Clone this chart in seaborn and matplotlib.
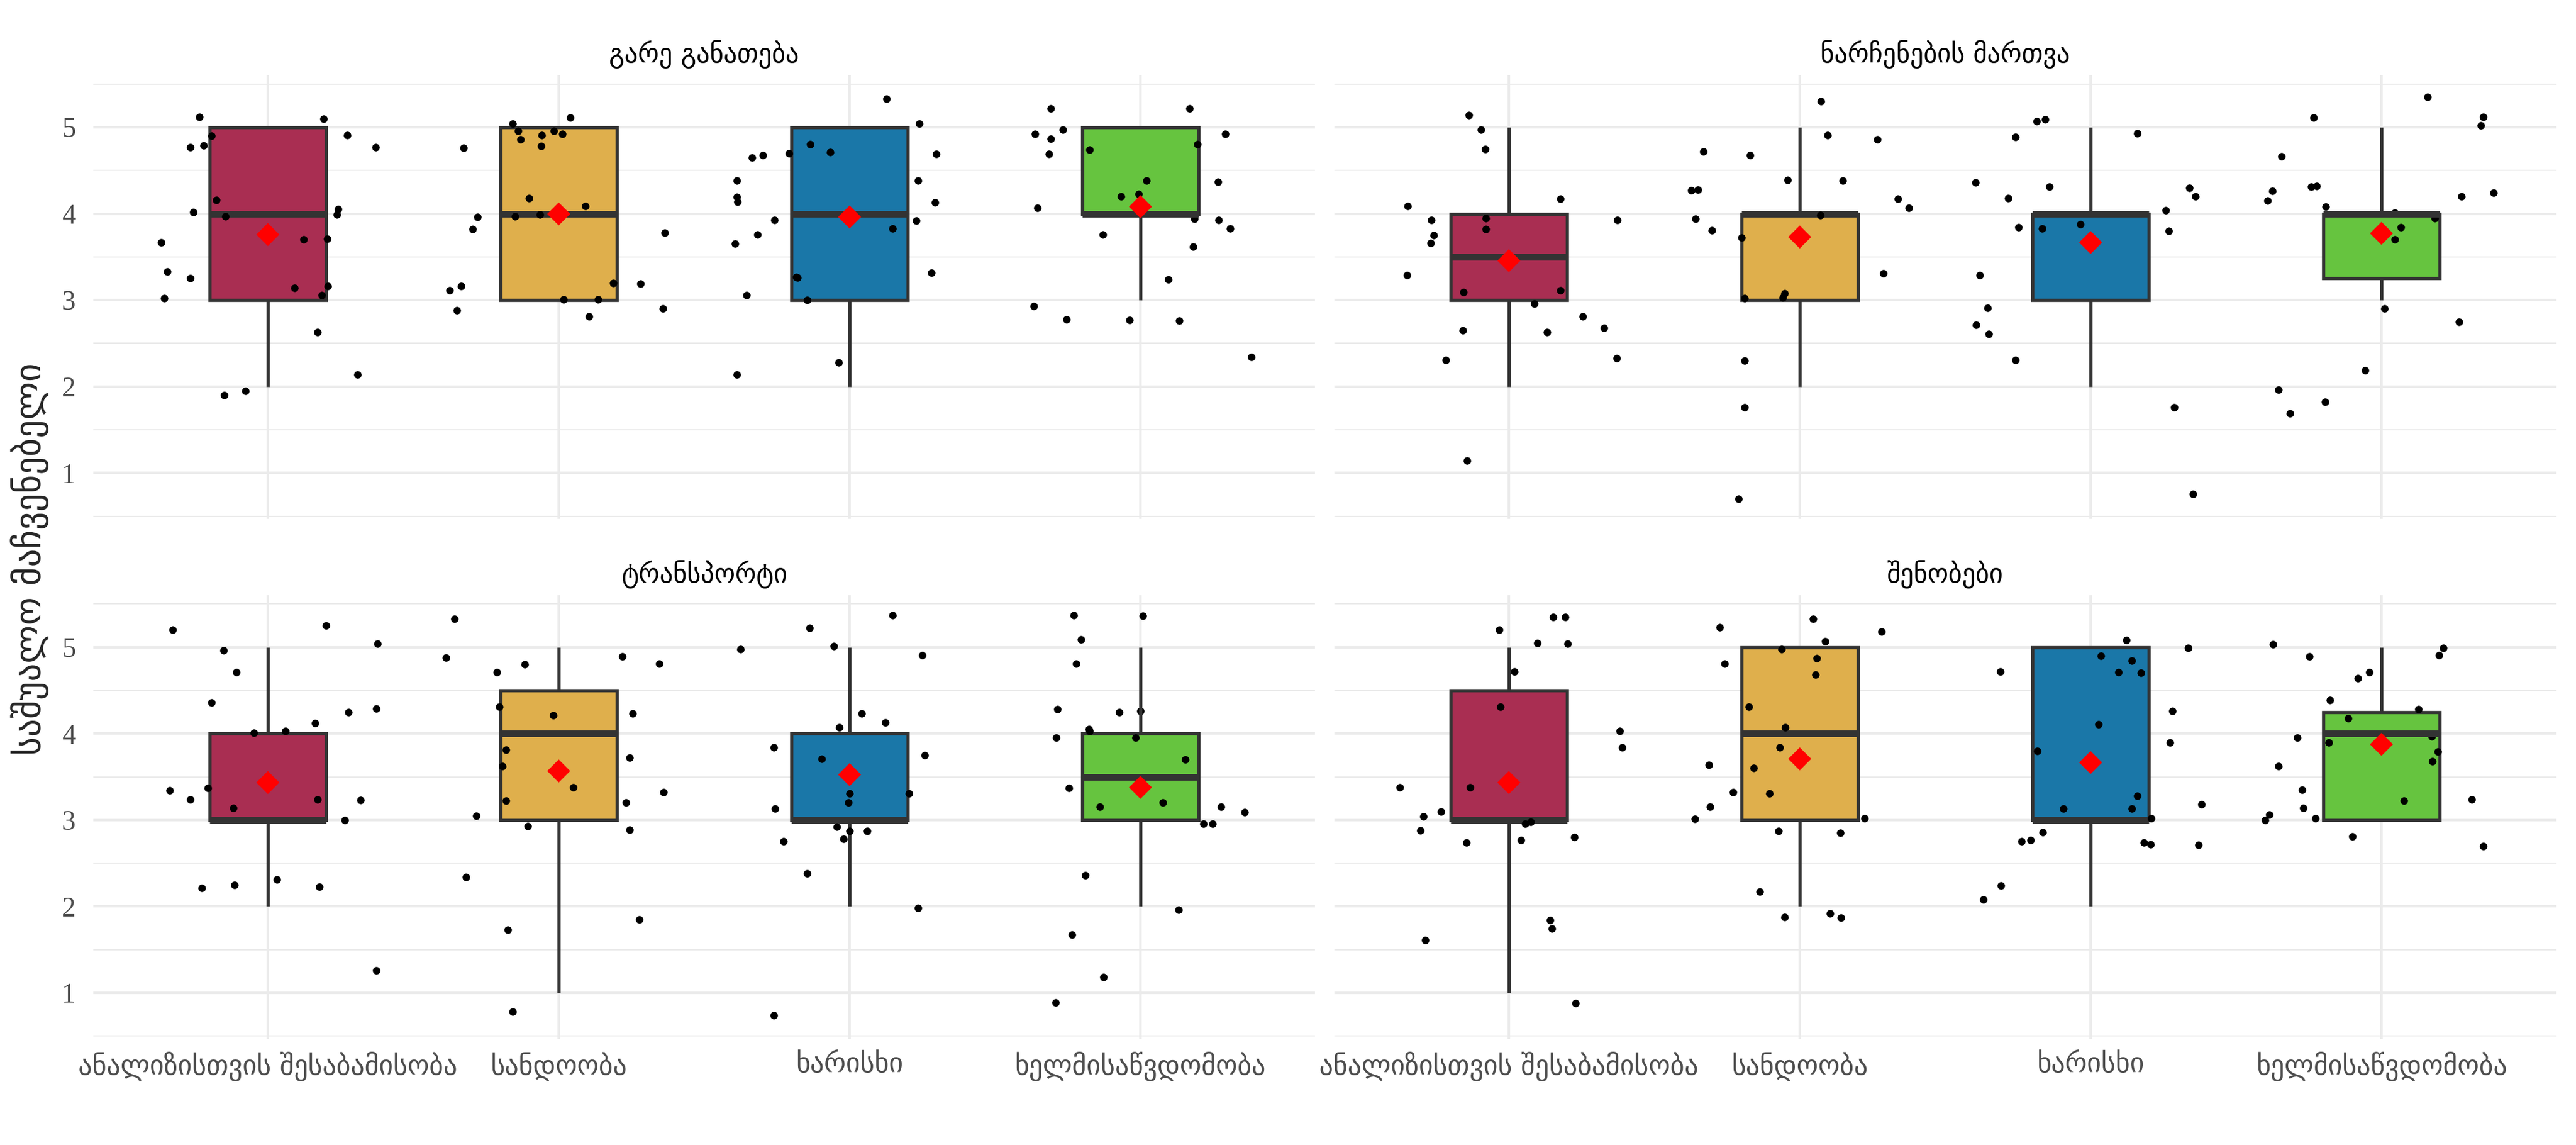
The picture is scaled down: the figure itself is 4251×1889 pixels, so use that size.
import numpy as np
import pandas as pd
import matplotlib
matplotlib.use("Agg")
import matplotlib.pyplot as plt
import seaborn as sns
from matplotlib.ticker import MultipleLocator

sns.set_style("white")
plt.rcParams["font.family"] = ["DejaVu Sans"]

panels = ["გარე განათება", "ნარჩენების მართვა", "ტრანსპორტი", "შენობები"]
criteria = ["ანალიზისთვის შესაბამისობა", "სანდოობა", "ხარისხი", "ხელმისაწვდომობა"]
colors = ["#A92E52", "#DFAF4C", "#1A77A8", "#66C43F"]
y_ticks = [1, 2, 3, 4, 5]
y_label = "საშუალო მაჩვენებელი"

# jittered scores as drawn (y) and their horizontal jitter (dx), one list per criterion
light_y = [
    [5.12, 5.10, 4.90, 4.91, 4.77, 4.79, 4.77, 4.16, 4.05, 4.02, 3.97, 3.99, 3.67, 3.70, 3.71,
     3.33, 3.25, 3.02, 3.14, 3.16, 3.06, 2.63, 2.14, 1.90, 1.95],
    [5.04, 4.96, 5.11, 4.86, 4.91, 4.96, 4.92, 4.78, 4.76, 4.18, 3.97, 3.99, 4.09, 3.96, 3.82,
     3.11, 3.16, 2.88, 3.20, 3.19, 3.01, 3.01, 2.81, 3.78, 2.90],
    [5.33, 5.04, 4.69, 4.65, 4.68, 4.70, 4.80, 4.71, 4.38, 4.38, 4.19, 4.14, 4.13, 3.93, 3.92,
     3.83, 3.76, 3.65, 3.27, 3.26, 3.32, 3.06, 3.00, 2.28, 2.14],
    [5.22, 5.22, 4.92, 4.87, 4.97, 4.92, 4.80, 4.74, 4.69, 4.38, 4.37, 4.20, 4.23, 4.07, 3.94,
     3.93, 3.83, 3.76, 3.62, 3.24, 2.93, 2.78, 2.77, 2.76, 2.34],
]
light_dx = [
    [-0.235, 0.193, -0.194, 0.274, -0.267, -0.22, 0.372, -0.177, 0.241, -0.257, -0.146, 0.238, -0.366,
     0.124, 0.204, -0.345, -0.267, -0.356, 0.092, 0.207, 0.185, 0.172, 0.308, -0.149, -0.077],
    [-0.158, -0.14, 0.039, -0.13, -0.057, -0.016, 0.012, -0.061, -0.327, -0.102, -0.149, -0.064, 0.092,
     -0.279, -0.295, -0.375, -0.336, -0.35, 0.187, 0.282, 0.018, 0.136, 0.105, 0.365, 0.358],
    [0.127, 0.239, 0.298, -0.336, -0.298, -0.207, -0.134, -0.067, -0.387, 0.235, -0.388, -0.385, 0.295,
     -0.258, 0.229, 0.149, -0.317, -0.394, -0.182, -0.178, 0.282, -0.353, -0.145, -0.038, -0.387],
    [-0.308, 0.169, -0.362, -0.307, -0.267, 0.292, 0.196, -0.174, -0.314, 0.022, 0.267, -0.066, -0.006,
     -0.353, 0.185, 0.27, 0.309, -0.128, 0.182, 0.096, -0.366, -0.253, -0.038, 0.134, 0.382],
]

waste_y = [
    [5.14, 4.97, 4.75, 4.09, 3.93, 3.95, 3.82, 3.75, 3.66, 4.17, 3.93, 3.29, 3.09, 3.11, 2.96,
     2.81, 2.68, 2.65, 2.63, 2.31, 2.33, 1.14],
    [5.30, 4.91, 4.86, 4.72, 4.68, 4.39, 4.38, 4.27, 4.28, 4.17, 4.07, 3.98, 3.94, 3.81, 3.72,
     3.31, 3.08, 3.03, 3.02, 2.30, 1.76, 0.70],
    [5.07, 5.09, 4.89, 4.93, 4.36, 4.18, 4.31, 4.30, 4.20, 4.04, 3.84, 3.83, 3.88, 3.80, 3.29,
     2.91, 2.71, 2.61, 2.31, 1.76, 0.76],
    [5.35, 5.11, 5.12, 5.02, 4.66, 4.26, 4.15, 4.31, 4.32, 4.08, 4.20, 4.24, 4.01, 3.95, 3.84,
     3.70, 2.90, 2.75, 2.19, 1.96, 1.69, 1.82],
]
waste_dx = [
    [-0.137, -0.095, -0.081, -0.348, -0.266, -0.08, -0.079, -0.258, -0.269, 0.177, 0.374, -0.35,
     -0.157, 0.177, 0.087, 0.254, 0.327, -0.159, 0.131, -0.217, 0.37, -0.143],
    [0.074, 0.097, 0.266, -0.331, -0.171, -0.041, 0.149, -0.372, -0.349, 0.338, 0.375, 0.07,
     -0.359, -0.302, -0.2, 0.287, -0.051, -0.058, -0.19, -0.19, -0.189, -0.21],
    [-0.185, -0.156, -0.259, 0.16, -0.395, -0.283, -0.141, 0.339, 0.36, 0.258, -0.247, -0.166,
     -0.035, 0.268, -0.382, -0.353, -0.393, -0.35, -0.259, 0.287, 0.353],
    [0.158, -0.234, 0.351, 0.342, -0.343, -0.374, -0.391, -0.241, -0.223, -0.191, 0.275, 0.385,
     0.046, 0.184, 0.066, 0.046, 0.011, 0.266, -0.056, -0.354, -0.315, -0.194],
]

transport_y = [
    [5.20, 5.25, 5.04, 4.96, 4.71, 4.36, 4.25, 4.29, 4.12, 4.01, 4.03, 3.34, 3.24, 3.37, 3.14,
     3.24, 3.23, 3.00, 2.21, 2.25, 2.31, 2.23, 1.26],
    [5.33, 4.88, 4.71, 4.80, 4.89, 4.81, 4.31, 4.21, 4.23, 3.81, 3.62, 3.72, 3.38, 3.22, 3.20,
     3.05, 2.93, 2.89, 3.32, 2.34, 1.85, 1.73, 0.78],
    [5.37, 5.22, 4.98, 5.01, 4.91, 4.23, 4.13, 4.07, 3.84, 3.71, 3.75, 3.31, 3.20, 3.31, 3.13,
     2.92, 2.87, 2.87, 2.78, 2.75, 2.38, 1.98, 0.74],
    [5.37, 5.36, 5.09, 4.81, 4.28, 4.25, 4.26, 4.05, 4.03, 3.95, 3.95, 3.70, 3.37, 3.20, 3.15,
     3.15, 3.09, 2.96, 2.96, 2.36, 1.96, 1.67, 1.18, 0.89],
]
transport_dx = [
    [-0.326, 0.201, 0.378, -0.152, -0.108, -0.193, 0.277, 0.374, 0.162, -0.047, 0.061, -0.337,
     -0.266, -0.207, -0.118, 0.171, 0.32, 0.264, -0.226, -0.115, 0.032, 0.177, 0.374],
    [-0.358, -0.387, -0.212, -0.117, 0.22, 0.346, -0.203, -0.019, 0.254, -0.18, -0.194, 0.244,
     0.05, -0.18, 0.232, -0.283, -0.105, 0.244, 0.36, -0.318, 0.277, -0.174, -0.159],
    [0.149, -0.137, -0.375, -0.054, 0.25, 0.042, 0.123, -0.034, -0.261, -0.096, 0.258, 0.001,
     -0.003, 0.204, -0.255, -0.044, 0.001, 0.06, -0.02, -0.226, -0.146, 0.235, -0.26],
    [-0.229, 0.009, -0.203, -0.22, -0.285, -0.072, 0.0, -0.177, -0.174, -0.289, -0.016, 0.155,
     -0.245, 0.077, -0.14, 0.277, 0.358, 0.218, 0.248, -0.19, 0.131, -0.235, -0.126, -0.292],
]

buildings_y = [
    [5.20, 5.35, 5.35, 5.05, 5.04, 4.72, 4.31, 4.03, 3.84, 3.38, 3.38, 3.10, 3.04, 2.88, 2.74,
     2.96, 2.98, 2.77, 2.80, 1.84, 1.74, 1.61, 0.88],
    [5.33, 5.23, 5.18, 5.07, 4.98, 4.81, 4.87, 4.68, 4.31, 4.07, 3.84, 3.64, 3.60, 3.32, 3.31,
     3.15, 3.01, 3.02, 2.87, 2.85, 2.17, 1.88, 1.92, 1.87],
    [5.08, 4.99, 4.72, 4.90, 4.84, 4.71, 4.70, 4.26, 4.11, 3.90, 3.80, 3.28, 3.13, 3.13, 3.18,
     3.02, 2.86, 2.75, 2.77, 2.74, 2.72, 2.71, 2.24, 2.08],
    [5.03, 4.89, 4.99, 4.91, 4.64, 4.71, 4.39, 4.28, 4.18, 3.95, 3.90, 3.97, 3.79, 3.68, 3.62,
     3.35, 3.14, 3.22, 3.24, 3.00, 3.06, 3.02, 2.81, 2.70],
]
buildings_dx = [
    [-0.034, 0.152, 0.194, 0.098, 0.203, 0.018, -0.03, 0.382, 0.39, -0.374, -0.134, -0.234,
     -0.294, -0.305, -0.146, 0.057, 0.076, 0.041, 0.225, 0.142, 0.148, -0.287, 0.23],
    [0.047, -0.274, 0.281, 0.087, -0.063, -0.258, 0.058, 0.054, -0.175, -0.05, -0.068, -0.312,
     -0.159, -0.229, -0.105, -0.309, -0.36, 0.223, -0.072, 0.139, -0.138, -0.051, 0.105, 0.141],
    [0.124, 0.336, -0.31, 0.035, 0.141, 0.096, 0.174, 0.282, 0.028, 0.274, -0.183, 0.16,
     -0.093, 0.142, 0.382, 0.208, -0.165, -0.237, -0.206, 0.184, 0.206, 0.371, -0.308, -0.368],
    [-0.372, -0.247, 0.213, 0.198, -0.082, -0.042, -0.177, 0.128, -0.114, -0.289, -0.18, 0.173,
     0.194, 0.176, -0.353, -0.273, -0.268, 0.077, 0.311, -0.399, -0.386, -0.226, -0.099, 0.35],
]


def build_frame():
    """Long table: one row per respondent point"""
    rows = []
    sources = [(light_y, light_dx), (waste_y, waste_dx),
               (transport_y, transport_dx), (buildings_y, buildings_dx)]
    for panel, (ys, dxs) in zip(panels, sources):
        for i, crit in enumerate(criteria):
            for y, dx in zip(ys[i], dxs[i]):
                rows.append({"panel": panel, "criterion": crit, "y": y,
                             "xpos": i + dx, "score": float(np.rint(y))})
    return pd.DataFrame(rows)


df = build_frame()

fig, axes = plt.subplots(2, 2, figsize=(4251 / 300, 1889 / 300), dpi=300,
                         sharex=True, sharey=True)
fig.subplots_adjust(left=0.0362, right=0.9922, top=0.9344, bottom=0.0926,
                    wspace=0.016, hspace=0.171)

grid_col = "#EBEBEB"
ymin, ymax = df["y"].min(), df["y"].max()
pad = 0.05 * (ymax - ymin)

for ax, panel in zip(axes.flat, panels):
    sub = df[df["panel"] == panel]

    sns.boxplot(data=sub, x="criterion", y="score", order=criteria, hue="criterion",
                hue_order=criteria, palette=colors, saturation=1, width=0.4,
                showfliers=False, showcaps=False, linecolor="#333333", linewidth=1.3,
                medianprops=dict(linewidth=2.6), legend=False, ax=ax)
    sns.scatterplot(x=sub["xpos"], y=sub["y"], color="black", s=9, linewidth=0,
                    zorder=3, ax=ax)
    sns.pointplot(data=sub, x="criterion", y="score", order=criteria, estimator="mean",
                  errorbar=None, color="red", markers="D", linestyle="none",
                  markersize=6.5, markeredgewidth=0, ax=ax)
    for ln in ax.lines[-4:]:
        ln.set_zorder(4)

    ax.set_xlim(-0.6, 3.6)
    ax.set_ylim(ymin - pad, ymax + pad)
    ax.set_yticks(y_ticks, labels=[str(t) for t in y_ticks], fontfamily="Liberation Serif")
    ax.yaxis.set_minor_locator(MultipleLocator(0.5))
    ax.set_axisbelow(True)
    ax.grid(which="major", axis="both", color=grid_col, linewidth=1.0)
    ax.grid(which="minor", axis="y", color=grid_col, linewidth=0.5)
    ax.tick_params(axis="both", which="both", length=0, colors="#4D4D4D")
    ax.tick_params(axis="x", labelsize=10.9, pad=5)
    ax.tick_params(axis="y", labelsize=11, pad=7)
    for s in ax.spines.values():
        s.set_visible(False)
    ax.set_xlabel("")
    ax.set_ylabel("")
    ax.set_title(panel, fontsize=10.5, pad=5, color="black")

fig.text(0.0115, 0.512, y_label, rotation=90, ha="center", va="center", fontsize=14.2)

fig.savefig("out.png", dpi=300)
